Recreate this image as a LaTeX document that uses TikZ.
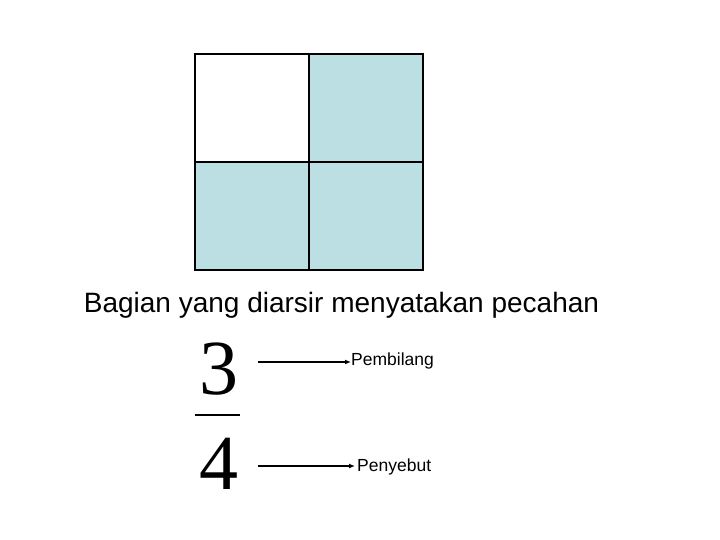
\documentclass[tikz,border=0pt]{standalone}
\usepackage{fontspec}
\setmainfont{Liberation Sans}
\newfontfamily\serifdigits{Liberation Serif}
\definecolor{cellblue}{HTML}{BBDFE3}
\usetikzlibrary{arrows.meta}
\tikzset{
  cell/.style={draw=black, line width=1.3pt},
  lbl/.style={font=\fontsize{17.5}{20}\selectfont, inner sep=0pt},
  num/.style={font=\serifdigits\fontsize{78}{80}\selectfont, inner sep=0pt},
  arr/.style={-{Latex[length=6pt,width=5pt]}, line width=1.3pt},
}
\begin{document}
\begin{tikzpicture}[x=1pt,y=-1pt]
\useasboundingbox (0,0) rectangle (720,540);
\fill[cellblue] (309,54) rectangle (423,162);
\fill[cellblue] (195,162) rectangle (423,270);
\draw[cell] (195,54) rectangle (423,270);
\draw[cell] (309,54) -- (309,270);
\draw[cell] (195,162) -- (423,162);
\node[font=\fontsize{28}{32}\selectfont, inner sep=0pt, anchor=base] (title) at (341.5,312) {Bagian yang diarsir menyatakan pecahan};
\node[num, anchor=base] (three) at (219,394) {3};
\node[num, anchor=base] (four) at (219,489) {4};
\draw[line width=1.4pt] (195,415) -- (240,415);
\node[lbl, anchor=west] (pem) at (351,361) {Pembilang};
\node[lbl, anchor=west] (pen) at (357,467) {Penyebut};
\coordinate (a1) at (258,362);
\coordinate (a2) at (258,466);
\draw[arr] (a1) -- (pem.west |- a1);
\draw[arr] (a2) -- ([xshift=-2pt]pen.west |- a2);
\end{tikzpicture}
\end{document}
